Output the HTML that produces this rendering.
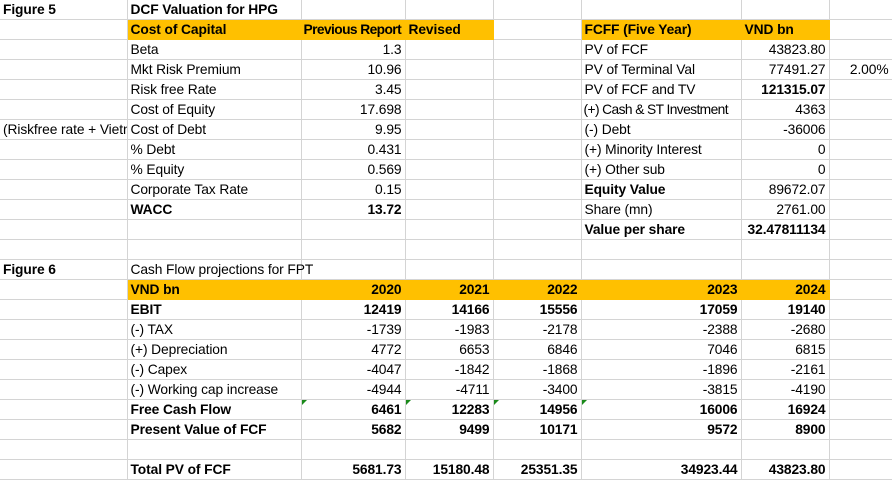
<!DOCTYPE html>
<html><head><meta charset="utf-8"><style>
html,body{margin:0;padding:0;background:#fff;width:892px;height:482px;overflow:hidden}
table{border-collapse:collapse;table-layout:fixed;width:892px;font-family:"Liberation Sans",sans-serif;font-size:13.8px;letter-spacing:-0.1px;color:#000}
td{height:19px;border:1px solid #d4d4d4;padding:0 3px;white-space:nowrap;overflow:hidden;line-height:19px;position:relative}
tr:first-child td{border-top:none}
td:first-child{border-left:none}
.r{text-align:right}.b{font-weight:bold}
.o{background:#ffc000;border-color:#ffc000}
.ov{overflow:visible}
.t{letter-spacing:-0.6px;padding-left:2px}
.g::before{content:"";position:absolute;left:0;top:0;border-top:5px solid #1a8a1a;border-right:5px solid transparent}
</style></head><body>
<table>
<colgroup><col style="width:127px"><col style="width:174px"><col style="width:104px"><col style="width:88px"><col style="width:88px"><col style="width:160px"><col style="width:88px"><col style="width:63px"></colgroup>
<tr><td class="b">Figure 5</td><td class="b">DCF Valuation for HPG</td><td></td><td></td><td></td><td></td><td></td><td></td></tr>
<tr><td></td><td class="o b">Cost of Capital</td><td class="o b t">Previous Report</td><td class="o b">Revised</td><td></td><td class="o b">FCFF (Five Year)</td><td class="o b">VND bn</td><td></td></tr>
<tr><td></td><td>Beta</td><td class="r">1.3</td><td></td><td></td><td>PV of FCF</td><td class="r">43823.80</td><td></td></tr>
<tr><td></td><td>Mkt Risk Premium</td><td class="r">10.96</td><td></td><td></td><td>PV of Terminal Val</td><td class="r">77491.27</td><td class="r">2.00%</td></tr>
<tr><td></td><td>Risk free Rate</td><td class="r">3.45</td><td></td><td></td><td>PV of FCF and TV</td><td class="r b">121315.07</td><td></td></tr>
<tr><td></td><td>Cost of Equity</td><td class="r">17.698</td><td></td><td></td><td class="t">(+) Cash &amp; ST Investment</td><td class="r">4363</td><td></td></tr>
<tr><td>(Riskfree rate + Vietnam</td><td>Cost of Debt</td><td class="r">9.95</td><td></td><td></td><td>(-) Debt</td><td class="r">-36006</td><td></td></tr>
<tr><td></td><td>% Debt</td><td class="r">0.431</td><td></td><td></td><td>(+) Minority Interest</td><td class="r">0</td><td></td></tr>
<tr><td></td><td>% Equity</td><td class="r">0.569</td><td></td><td></td><td>(+) Other sub</td><td class="r">0</td><td></td></tr>
<tr><td></td><td>Corporate Tax Rate</td><td class="r">0.15</td><td></td><td></td><td class="b">Equity Value</td><td class="r">89672.07</td><td></td></tr>
<tr><td></td><td class="b">WACC</td><td class="r b">13.72</td><td></td><td></td><td>Share (mn)</td><td class="r">2761.00</td><td></td></tr>
<tr><td></td><td></td><td></td><td></td><td></td><td class="b">Value per share</td><td class="r b">32.47811134</td><td></td></tr>
<tr><td></td><td></td><td></td><td></td><td></td><td></td><td></td><td></td></tr>
<tr><td class="b">Figure 6</td><td class="ov">Cash Flow projections for FPT</td><td></td><td></td><td></td><td></td><td></td><td></td></tr>
<tr><td></td><td class="o b">VND bn</td><td class="o b r">2020</td><td class="o b r">2021</td><td class="o b r">2022</td><td class="o b r">2023</td><td class="o b r">2024</td><td></td></tr>
<tr class="b"><td></td><td>EBIT</td><td class="r">12419</td><td class="r">14166</td><td class="r">15556</td><td class="r">17059</td><td class="r">19140</td><td></td></tr>
<tr><td></td><td>(-) TAX</td><td class="r">-1739</td><td class="r">-1983</td><td class="r">-2178</td><td class="r">-2388</td><td class="r">-2680</td><td></td></tr>
<tr><td></td><td>(+) Depreciation</td><td class="r">4772</td><td class="r">6653</td><td class="r">6846</td><td class="r">7046</td><td class="r">6815</td><td></td></tr>
<tr><td></td><td>(-) Capex</td><td class="r">-4047</td><td class="r">-1842</td><td class="r">-1868</td><td class="r">-1896</td><td class="r">-2161</td><td></td></tr>
<tr><td></td><td>(-) Working cap increase</td><td class="r">-4944</td><td class="r">-4711</td><td class="r">-3400</td><td class="r">-3815</td><td class="r">-4190</td><td></td></tr>
<tr class="b"><td></td><td>Free Cash Flow</td><td class="r g">6461</td><td class="r g">12283</td><td class="r g">14956</td><td class="r g">16006</td><td class="r">16924</td><td></td></tr>
<tr class="b"><td></td><td>Present Value of FCF</td><td class="r">5682</td><td class="r">9499</td><td class="r">10171</td><td class="r">9572</td><td class="r">8900</td><td></td></tr>
<tr><td></td><td></td><td></td><td></td><td></td><td></td><td></td><td></td></tr>
<tr class="b"><td></td><td>Total PV of FCF</td><td class="r">5681.73</td><td class="r">15180.48</td><td class="r">25351.35</td><td class="r">34923.44</td><td class="r">43823.80</td><td></td></tr>
</table>
</body></html>
